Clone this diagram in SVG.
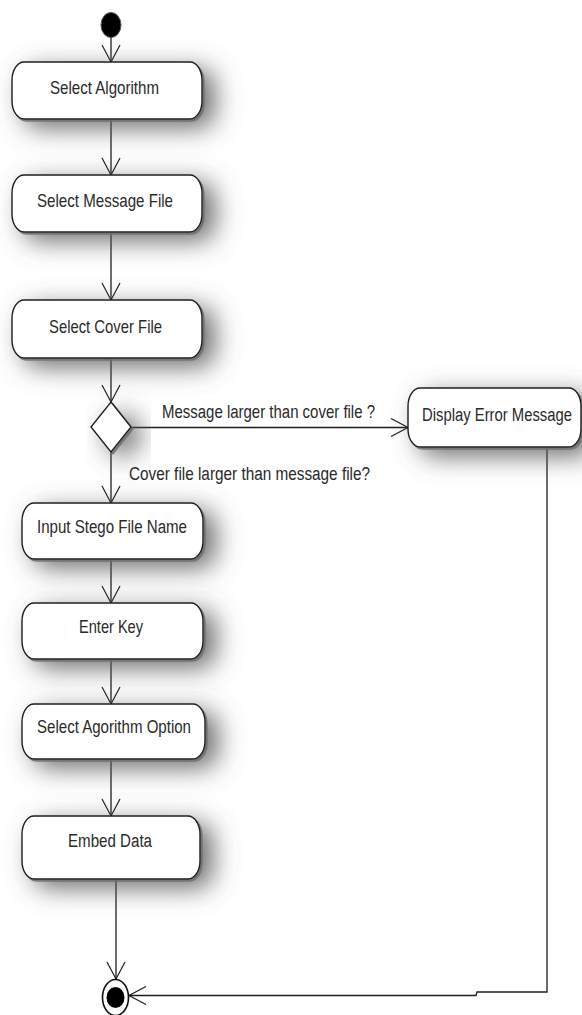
<svg xmlns="http://www.w3.org/2000/svg" width="582" height="1015" viewBox="0 0 582 1015">
  <style>
    .act { fill: #ffffff; stroke: #1e1e1e; stroke-width: 1.4; filter: url(#soft); }
    .lbl { font-family: "Liberation Sans", Arial, sans-serif; font-size: 15px; fill: #2a2a2a; }
    .flow { fill: none; stroke: #1e1e1e; stroke-width: 1.3; }
    .head { fill: none; stroke: #1e1e1e; stroke-width: 1.2; }
  </style>
  <defs>
    <filter id="soft" x="-40%" y="-80%" width="190%" height="280%">
      <feGaussianBlur in="SourceAlpha" stdDeviation="13" result="b"/>
      <feOffset in="b" dx="12" dy="8" result="o"/>
      <feFlood flood-color="#5a5a5a" flood-opacity="0.9"/>
      <feComposite in2="o" operator="in" result="wide"/>
      <feOffset in="SourceAlpha" dx="1.5" dy="1.5" result="t"/>
      <feFlood flood-color="#6f6f6f" flood-opacity="0.85"/>
      <feComposite in2="t" operator="in" result="tight"/>
      <feMerge>
        <feMergeNode in="wide"/>
        <feMergeNode in="tight"/>
        <feMergeNode in="SourceGraphic"/>
      </feMerge>
    </filter>
    <marker id="open" viewBox="-18 -10 20 20" refX="0" refY="0" markerWidth="20" markerHeight="20" markerUnits="userSpaceOnUse" orient="auto">
      <path class="head" d="M -17 -9 L 0 0 L -17 9"/>
    </marker>
  </defs>

  <rect width="582" height="1015" fill="#ffffff"/>

  <!-- control flow -->
  <g id="connectors">
    <path class="flow" marker-end="url(#open)" d="M 111 37 L 111 62"/>
    <path class="flow" marker-end="url(#open)" d="M 111 119 L 111 175"/>
    <path class="flow" marker-end="url(#open)" d="M 111 232 L 111 300"/>
    <path class="flow" marker-end="url(#open)" d="M 111 358 L 111 402"/>
    <path class="flow" marker-end="url(#open)" d="M 131 427.5 L 408 427.5"/>
    <path class="flow" marker-end="url(#open)" d="M 111 452 L 111 503"/>
    <path class="flow" marker-end="url(#open)" d="M 111 559 L 111 603"/>
    <path class="flow" marker-end="url(#open)" d="M 111 659 L 111 704"/>
    <path class="flow" marker-end="url(#open)" d="M 111 759 L 111 816"/>
    <path class="flow" marker-end="url(#open)" d="M 116 879 L 116 979"/>
    <path class="flow" marker-end="url(#open)" d="M 547 447 L 547 992 L 477 992 L 476 995.5 L 129 995.5"/>
    <text class="lbl" transform="translate(162 418) scale(1 1.27)" textLength="213" lengthAdjust="spacingAndGlyphs">Message larger than cover file ?</text>
    <text class="lbl" transform="translate(129 480) scale(1 1.27)" textLength="241" lengthAdjust="spacingAndGlyphs">Cover file larger than message file?</text>
  </g>

  <g id="start">
    <ellipse cx="111" cy="25" rx="10" ry="12.5" fill="#000000" stroke="#555555" stroke-width="1"/>
  </g>

  <g id="select-algorithm">
    <rect class="act" x="12" y="62" width="190" height="57" rx="12" ry="18"/>
    <text class="lbl" transform="translate(50 94) scale(1 1.27)" textLength="109" lengthAdjust="spacingAndGlyphs">Select Algorithm</text>
  </g>

  <g id="select-message-file">
    <rect class="act" x="12" y="175" width="190" height="57" rx="12" ry="18"/>
    <text class="lbl" transform="translate(37 207) scale(1 1.27)" textLength="136" lengthAdjust="spacingAndGlyphs">Select Message File</text>
  </g>

  <g id="select-cover-file">
    <rect class="act" x="12" y="300" width="190" height="58" rx="12" ry="18"/>
    <text class="lbl" transform="translate(49 333) scale(1 1.27)" textLength="113" lengthAdjust="spacingAndGlyphs">Select Cover File</text>
  </g>

  <g id="size-check">
    <path class="act" d="M 111 402 L 131 427 L 111 452 L 91 427 Z"/>
  </g>

  <g id="display-error">
    <rect class="act" x="408" y="388" width="173" height="59" rx="12" ry="18"/>
    <text class="lbl" transform="translate(422 421) scale(1 1.27)" textLength="150" lengthAdjust="spacingAndGlyphs">Display Error Message</text>
  </g>

  <g id="input-stego-name">
    <rect class="act" x="22" y="503" width="181" height="56" rx="12" ry="18"/>
    <text class="lbl" transform="translate(37 533) scale(1 1.27)" textLength="150" lengthAdjust="spacingAndGlyphs">Input Stego File Name</text>
  </g>

  <g id="enter-key">
    <rect class="act" x="22" y="603" width="181" height="56" rx="12" ry="18"/>
    <text class="lbl" transform="translate(79 633) scale(1 1.27)" textLength="64" lengthAdjust="spacingAndGlyphs">Enter Key</text>
  </g>

  <g id="algorithm-option">
    <rect class="act" x="22" y="704" width="183" height="55" rx="12" ry="18"/>
    <text class="lbl" transform="translate(37 733) scale(1 1.27)" textLength="154" lengthAdjust="spacingAndGlyphs">Select Agorithm Option</text>
  </g>

  <g id="embed-data">
    <rect class="act" x="22" y="816" width="178" height="63" rx="12" ry="18"/>
    <text class="lbl" transform="translate(68 847) scale(1 1.27)" textLength="84" lengthAdjust="spacingAndGlyphs">Embed Data</text>
  </g>

  <g id="end">
    <ellipse cx="115.5" cy="997.5" rx="13" ry="18" fill="#ffffff" stroke="#111111" stroke-width="1.6"/>
    <ellipse cx="115.5" cy="997.5" rx="9" ry="10.5" fill="#000000"/>
  </g>
</svg>
